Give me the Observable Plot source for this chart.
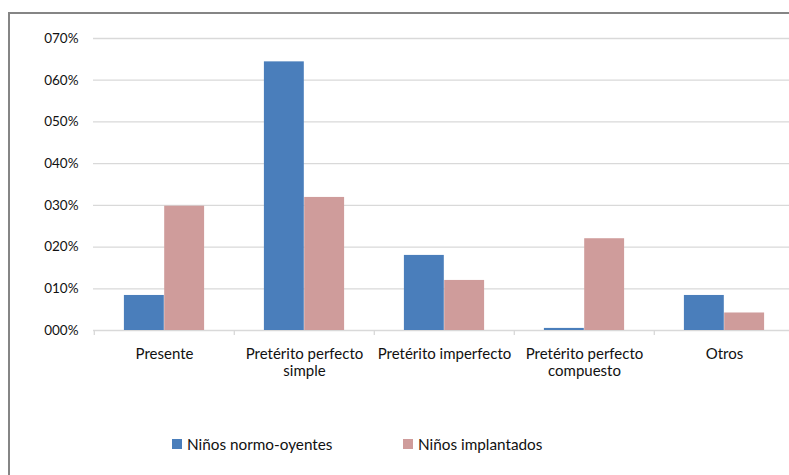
<!DOCTYPE html>
<html lang="es">
<head>
<meta charset="utf-8">
<script src="https://cdn.jsdelivr.net/npm/d3@7"></script>
<script src="https://cdn.jsdelivr.net/npm/@observablehq/plot@0.6"></script>
<style>
  html, body { margin: 0; padding: 0; background: #fff; overflow: hidden; width: 789px; height: 475px; }
  #frame {
    position: absolute; left: 8px; top: 12px; width: 1000px; height: 1000px;
    border: 2px solid #858585; box-sizing: border-box;
  }
  #chart { position: absolute; left: 0; top: 0; width: 803px; }
  #legend {
    position: absolute; top: 433px; left: 0; width: 789px; height: 22px;
    font-family: Lato, "Open Sans", sans-serif; font-size: 15.3px; color: #111;
  }
  .item { position: absolute; top: 0; display: flex; align-items: center; height: 22px; }
  .swatch { width: 10px; height: 10px; margin-right: 5px; }
</style>
</head>
<body>
<div id="frame"></div>
<div id="chart"></div>
<div id="legend"></div>
<script>
// Tense categories and their two-line axis labels
const categories = ["Presente", "Pretérito perfecto simple", "Pretérito imperfecto", "Pretérito perfecto compuesto", "Otros"];
const categoryLabels = ["Presente", "Pretérito perfecto\nsimple", "Pretérito imperfecto", "Pretérito perfecto\ncompuesto", "Otros"];

// Share of verb forms per group
const seriesNames = ["Niños normo-oyentes", "Niños implantados"];
const normoOyentes = [0.084, 0.644, 0.180, 0.005, 0.084];
const implantados = [0.298, 0.319, 0.120, 0.220, 0.042];

// Y axis ticks
const yTicks = [0, 0.1, 0.2, 0.3, 0.4, 0.5, 0.6, 0.7];
const yTickLabels = ["000%", "010%", "020%", "030%", "040%", "050%", "060%", "070%"];

const colors = ["#4a7ebb", "#cf9c9b"];

const rows = [];
categories.forEach((c, i) => {
  rows.push({category: c, series: seriesNames[0], value: normoOyentes[i]});
  rows.push({category: c, series: seriesNames[1], value: implantados[i]});
});

const labelOf = new Map(categories.map((c, i) => [c, categoryLabels[i]]));
const yLabelOf = new Map(yTicks.map((t, i) => [t, yTickLabels[i]]));

const font = "Lato, 'Open Sans', sans-serif";

const chart = Plot.plot({
  width: 803,
  height: 400,
  marginLeft: 93,
  marginRight: 8,
  marginTop: 38,
  marginBottom: 70,
  style: {fontFamily: font, fontSize: "14px", color: "#111", background: "transparent", overflow: "visible", maxWidth: "none"},
  x: {type: "band", domain: categories, padding: 0, axis: null},
  y: {domain: [0, 0.7], axis: null},
  color: {domain: seriesNames, range: colors},
  marks: [
    Plot.gridY(yTicks, {stroke: "#d9d9d9", strokeOpacity: 1, strokeWidth: 1.3}),
    // boundary ticks under the baseline
    Plot.ruleX(categories, {x: d => d, y1: 0, y2: 0, dx: -70.2, insetBottom: -5, stroke: "#d9d9d9", strokeWidth: 1.3}),
    Plot.barY(rows.filter(d => d.series === seriesNames[0]), {
      x: "category", y: "value", fill: "series", dx: -20.15, insetLeft: 50.05, insetRight: 50.05
    }),
    Plot.barY(rows.filter(d => d.series === seriesNames[1]), {
      x: "category", y: "value", fill: "series", dx: 20.15, insetLeft: 50.05, insetRight: 50.05
    }),
    Plot.axisY(yTicks, {
      tickSize: 0, tickPadding: 15, tickFormat: t => yLabelOf.get(t),
      fontSize: 13.5, fill: "#111", label: null
    }),
    Plot.axisX({
      tickSize: 0, tickPadding: 17, tickFormat: c => labelOf.get(c),
      fontSize: 15, fill: "#111", lineHeight: 1.12, label: null
    })
  ]
});
document.getElementById("chart").append(chart);

// Legend below the chart
const legend = document.getElementById("legend");
const legendX = [172, 403];
seriesNames.forEach((name, i) => {
  const item = document.createElement("div");
  item.className = "item";
  item.style.left = legendX[i] + "px";
  const sw = document.createElement("span");
  sw.className = "swatch";
  sw.style.background = colors[i];
  const tx = document.createElement("span");
  tx.textContent = name;
  item.append(sw, tx);
  legend.append(item);
});
</script>
</body>
</html>
